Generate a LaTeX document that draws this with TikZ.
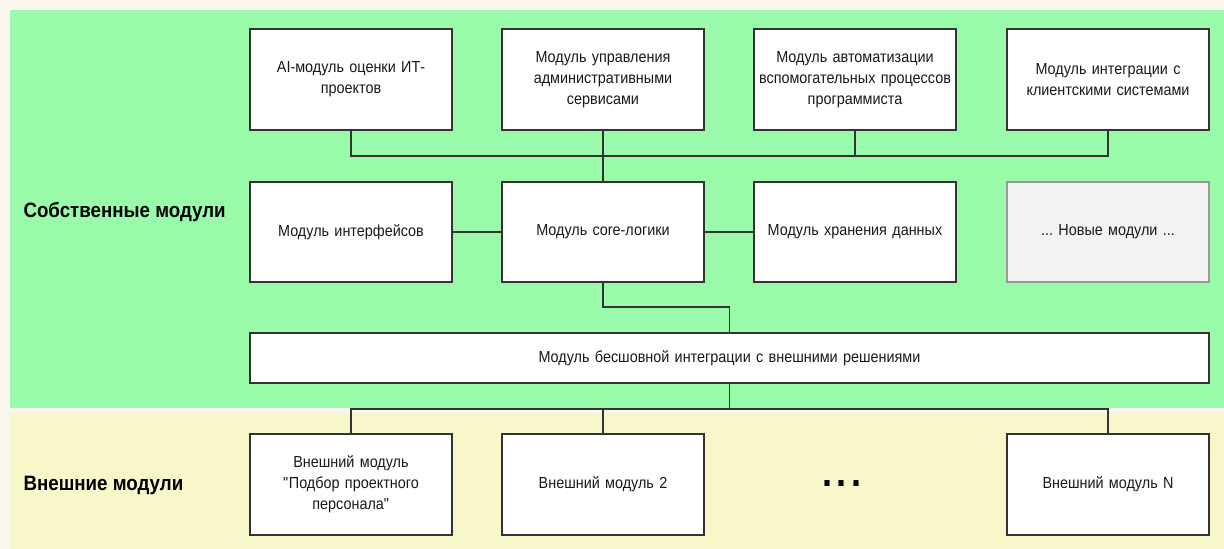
\documentclass[tikz,border=0pt]{standalone}
\usepackage{fontspec}
\setmainfont{Liberation Sans}[FakeStretch=0.9]
\usetikzlibrary{calc}
\definecolor{ivory}{HTML}{FAF8EE}
\definecolor{owngreen}{HTML}{99FBAA}
\definecolor{extyellow}{HTML}{F8F7C9}
\definecolor{boxline}{HTML}{333333}
\definecolor{newfill}{HTML}{F2F2F2}
\definecolor{newline}{HTML}{9A9A9A}
\tikzset{
  modbox/.style={draw=boxline, line width=1.2pt, fill=white, minimum width=202pt, minimum height=101pt,
    align=center, inner sep=2pt, text width=196pt, text=black!90,
    font=\fontsize{16}{21}\selectfont},
  newbox/.style={modbox, draw=newline, fill=newfill},
  link/.style={draw=boxline, line width=1.2pt},
  zonelabel/.style={anchor=west, font=\fontsize{20.8}{24}\selectfont\bfseries, text=black}
}
\frenchspacing
\begin{document}
\begin{tikzpicture}[x=1pt,y=-1pt]
\useasboundingbox (0,0) rectangle (1224,549);
\fill[ivory] (0,0) rectangle (1224,549);
\fill[owngreen] (10,10) rectangle (1224,408);
\fill[extyellow] (10,413) rectangle (1224,549);

% labels
\node[zonelabel] (own) at (20,212) {Собственные модули};
\node[zonelabel] (ext) at (20,485) {Внешние модули};

% top row
\node[modbox] (t1) at (351,79.5) {AI-модуль оценки ИТ-\\проектов};
\node[modbox] (t2) at (603,79.5) {Модуль управления\\административными\\сервисами};
\node[modbox] (t3) at (855,79.5) {Модуль автоматизации\\вспомогательных процессов\\программиста};
\node[modbox] (t4) at (1108,79.5) {Модуль интеграции с\\клиентскими системами};

% middle row
\node[modbox, minimum height=100pt] (m1) at (351,232) {Модуль интерфейсов};
\node[modbox, minimum height=100pt] (m2) at (603,232) {Модуль core-логики};
\node[modbox, minimum height=100pt] (m3) at (855,232) {Модуль хранения данных};
\node[newbox, minimum height=100pt] (m4) at (1108,232) {... Новые модули ...};

% integration
\node[modbox, minimum width=959pt, minimum height=50pt, text width=940pt] (integ) at (729.5,358) {Модуль бесшовной интеграции с внешними решениями};

% bottom row
\node[modbox] (b1) at (351,484.5) {Внешний модуль\\\textquotedbl Подбор проектного\\персонала\textquotedbl};
\node[modbox] (b2) at (603,484.5) {Внешний модуль 2};
\node[modbox] (bN) at (1108,484.5) {Внешний модуль N};
\node[font=\fontsize{40}{40}\selectfont\bfseries, inner sep=0pt] (dots) at (842,484) {.\kern5pt.\kern5pt.};

% connectors
\coordinate (bus1) at (0,156);
\coordinate (j1) at (0,307);
\coordinate (bus2) at (0,409);

\draw[link] (t1.south) -- (t1.south |- bus1) -- (t4.south |- bus1) -- (t4.south);
\draw[link] (t2.south) -- (m2.north);
\draw[link] (t3.south) -- (t3.south |- bus1);

\draw[link] (m1.east) -- (m2.west);
\draw[link] (m2.east) -- (m3.west);

\draw[link] (m2.south) |- (integ.north |- j1) -- (integ.north);

\draw[link] (integ.south) -- (integ.south |- bus2);
\draw[link] (b1.north) -- (b1.north |- bus2) -- (bN.north |- bus2) -- (bN.north);
\draw[link] (b2.north) -- (b2.north |- bus2);
\end{tikzpicture}
\end{document}
